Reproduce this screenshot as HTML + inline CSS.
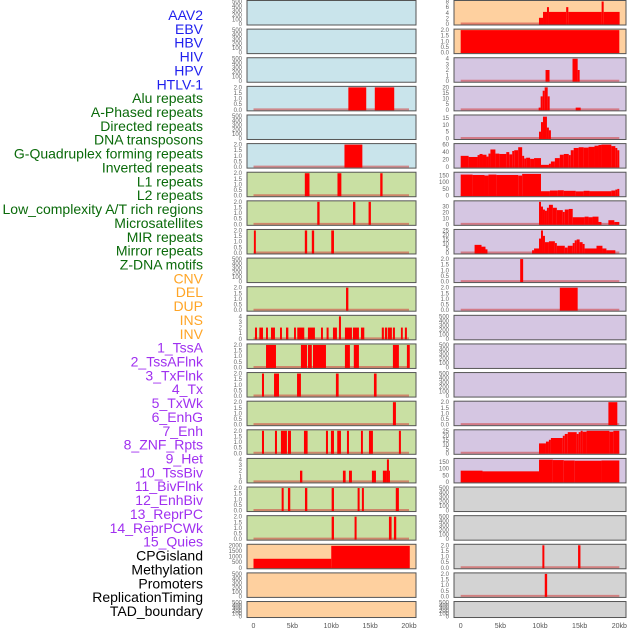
<!DOCTYPE html>
<html><head><meta charset="utf-8"><style>
html,body{margin:0;padding:0;background:#fff;width:630px;height:630px;overflow:hidden}
svg{display:block}
</style></head><body>
<svg id="chart" width="630" height="630" viewBox="0 0 630 630" xmlns="http://www.w3.org/2000/svg"></svg>
<script>
const trackLabels = ["AAV2","EBV","HBV","HIV","HPV","HTLV-1","Alu repeats","A-Phased repeats","Directed repeats","DNA transposons","G-Quadruplex forming repeats","Inverted repeats","L1 repeats","L2 repeats","Low_complexity A/T rich regions","Microsatellites","MIR repeats","Mirror repeats","Z-DNA motifs","CNV","DEL","DUP","INS","INV","1_TssA","2_TssAFlnk","3_TxFlnk","4_Tx","5_TxWk","6_EnhG","7_Enh","8_ZNF_Rpts","9_Het","10_TssBiv","11_BivFlnk","12_EnhBiv","13_ReprPC","14_ReprPCWk","15_Quies","CPGisland","Methylation","Promoters","ReplicationTiming","TAD_boundary"];
const labelGroups = ["virus","virus","virus","virus","virus","virus","repeat","repeat","repeat","repeat","repeat","repeat","repeat","repeat","repeat","repeat","repeat","repeat","repeat","sv","sv","sv","sv","sv","chrom","chrom","chrom","chrom","chrom","chrom","chrom","chrom","chrom","chrom","chrom","chrom","chrom","chrom","chrom","other","other","other","other","other"];
const xTickLabels = ["0","5kb","10kb","15kb","20kb"];
const xTickValues = [0,5,10,15,20];
const t500 = ["0","100","200","300","400","500"];
const t2 = ["0.0","0.5","1.0","1.5","2.0"];
const t4 = ["0","1","2","3","4"];
const segHIV = [[12.2,14.5,2],[15.6,18.1,2]];
const segHTLV = [[11.7,14.0,2]];
const segAlu = [[6.6,7.2,2],[10.8,11.3,2],[16.3,16.6,2]];
const segAPhased = [[8.2,8.5,2],[12.8,13.1,2],[14.8,15.1,2]];
const segDirected = [[0.05,0.3,2],[6.6,6.9,2],[7.5,7.8,2],[10.0,10.35,2]];
const segGQuad = [[11.9,12.2,2]];
const segInverted = [[0.19,0.45,2],[0.75,1.22,2],[1.61,1.86,2],[2.25,2.76,2],[3.41,3.66,2],[4.18,4.48,2],[5.21,5.46,2],[5.63,6.53,2],[7.0,7.9,2],[8.68,8.93,2],[9.4,9.66,2],[10.22,10.73,2],[10.99,11.25,4],[11.76,12.66,2],[12.79,13.56,2],[13.82,14.25,2],[16.5,16.77,2],[16.9,17.2,2],[17.29,17.8,2],[17.93,18.19,2],[18.96,19.2,2],[19.47,19.73,2]];
const segL1 = [[1.61,2.89,2],[6.1,6.88,2],[7.0,7.5,2],[7.65,9.32,2],[11.76,12.4,2],[12.9,13.56,2],[17.93,18.7,2],[19.73,20.1,2]];
const segL2 = [[1.09,1.35,2],[2.64,3.28,2],[5.6,6.1,2],[10.6,10.95,2],[15.49,15.83,2]];
const segLowComp = [[17.93,18.32,2]];
const segMicro = [[1.09,1.35,2],[2.76,3.02,2],[3.53,4.3,2],[4.43,4.82,2],[6.49,6.96,2],[9.32,9.58,2],[9.96,10.35,2],[10.77,11.25,2],[12.02,12.28,2],[13.82,14.07,2],[14.85,15.36,2],[18.7,18.96,2]];
const segMIR = [[5.98,6.28,2],[11.5,11.85,2],[12.28,12.66,2],[15.23,15.75,2],[16.64,17.16,2],[17.16,17.42,4],[17.42,17.54,2]];
const segMirror = [[3.62,3.88,2],[4.43,4.73,2],[6.62,6.92,2],[10.05,10.35,2],[13.39,13.65,2],[13.94,14.2,2],[18.3,18.7,2]];
const segZDNA = [[10.05,10.35,2],[13.0,13.26,2],[17.42,17.76,2],[18.06,18.36,2]];
const segCNV = [[0,10,800],[10,20.1,1950]];
const segINS = [[9.87,10.38,2.2],[10.38,10.88,4.3],[10.88,11.13,6],[11.13,13.3,4.3],[13.3,13.57,6],[13.57,17.77,4.3],[17.77,18.03,8],[18.03,20.04,4.3]];
const segINV = [[0,20,2]];
const segTssA = [[10.7,11.2,2],[14.1,14.75,4],[14.75,15.0,2]];
const segTssAFlnk = [[9.83,10.08,2],[10.08,10.34,12],[10.34,10.59,17],[10.59,10.97,20],[10.97,11.22,12],[14.5,15.13,2]];
const segTxFlnk = [[9.875,10.125,5],[10.125,10.375,12],[10.375,10.875,16],[10.875,11.125,8],[11.125,11.375,6]];
const segTx = [[0,1,30],[1,2.125,27],[2.125,2.375,32],[2.375,2.75,35],[2.75,3.25,33],[3.25,3.5,28],[3.5,3.75,36],[3.75,4.375,47],[4.375,4.875,36],[4.875,5.75,35],[5.75,6.125,40],[6.125,6.5,34],[6.5,6.75,43],[6.75,7.25,45],[7.25,7.75,53],[7.75,8,30],[8,8.25,23],[8.25,8.75,25],[8.75,9.25,22],[9.25,10.125,24],[10.125,11.125,6],[11.125,11.375,9],[11.375,11.875,15],[11.875,12.5,24],[12.5,13,33],[13,13.625,35],[13.625,13.875,32],[13.875,14.25,45],[14.25,14.875,51],[14.875,15.5,53],[15.5,16.125,52],[16.125,16.875,54],[16.875,17.375,57],[17.375,17.75,59],[17.75,19,60],[19,19.5,56],[19.5,19.75,51],[19.75,20,45]];
const segTxWk = [[0,1.5,155],[1.5,3,152],[3,3.5,148],[3.5,4.5,155],[4.5,7.25,152],[7.25,7.75,148],[7.75,10.125,160],[10.125,11.25,33],[11.25,12.25,38],[12.25,13,40],[13,14.5,36],[14.5,15.5,32],[15.5,16.25,36],[16.25,19,33],[19,19.5,38],[19.5,19.75,45],[19.75,20,50]];
const segEnhG = [[9.875,10.125,38],[10.125,10.375,30],[10.375,10.625,25],[10.625,10.875,23],[10.875,11.125,28],[11.125,11.625,33],[11.625,12.125,28],[12.125,12.875,24],[12.875,13.125,21],[13.125,13.625,25],[13.625,14.125,26],[14.125,15.625,12],[15.625,16.125,13],[16.125,16.625,12],[16.625,17.375,13],[17.375,17.75,4],[18.625,19.375,7],[19.375,20,4]];
const segEnh = [[1.75,2.625,9],[2.625,3.125,7],[3.125,3.375,4],[9,9.25,3],[9.25,9.875,5],[9.875,10.125,16],[10.125,10.375,25],[10.375,10.625,19],[10.625,11.125,12],[11.125,11.875,13],[11.875,12.125,11],[12.125,13.125,8],[13.125,13.5,6],[13.5,14.125,8],[14.125,14.375,11],[14.375,14.625,14],[14.625,15,15],[15,15.375,12],[15.375,15.625,10],[15.625,17.125,5],[17.125,17.875,8],[17.875,18.375,5],[18.375,19.5,3]];
const segZNF = [[7.5,7.875,2]];
const segHet = [[12.5,14.75,2]];
const segReprPC = [[18.625,19.75,2]];
const segReprPCWk = [[9.875,10.75,11],[10.75,11.125,13],[11.125,11.375,15],[11.375,12.875,17],[12.875,13.125,19.5],[13.125,13.5,21.5],[13.5,14.625,23.5],[14.625,14.875,21.5],[14.875,15.125,23.5],[15.125,15.375,25],[15.375,15.875,24],[15.875,18.75,25],[18.75,19.25,24],[19.25,20,25]];
const segQuies = [[0,2.75,85],[2.75,9.875,80],[9.875,11.625,168],[11.625,13,165],[13,14.375,162],[14.375,17.75,160],[17.75,20,162]];
const segPromoters = [[10.3,10.55,2],[14.8,15.1,2]];
const segRepTiming = [[10.6,10.9,2]];
const empty = [];

const panelSegs = [empty,empty,empty,segHIV,empty,segHTLV,segAlu,segAPhased,segDirected,empty,segGQuad,segInverted,segL1,segL2,segLowComp,segMicro,segMIR,segMirror,segZDNA,segCNV,empty,empty,
 segINS,segINV,segTssA,segTssAFlnk,segTxFlnk,segTx,segTxWk,segEnhG,segEnh,segZNF,segHet,empty,empty,empty,segReprPC,segReprPCWk,segQuies,empty,empty,segPromoters,segRepTiming,empty];
const panelYMax = [500,500,500,2,500,2,2,2,2,500,2,4,2,2,2,2,4,2,2,2000,500,500,
 8,2,4,20,16.5,60,165,38,25,2,2,500,500,500,2,25,170,500,500,2,2,500];
const panelTicks = [t500,t500,t500,t2,t500,t2,t2,t2,t2,t500,t2,t4,t2,t2,t2,t2,t4,t2,t2,["0","500","1000","1500","2000"],t500,t500,
 ["0","2","4","6","8"],t2,t4,["0","5","10","15","20"],["0","5","10","15"],["0","20","40","60"],["0","50","100","150"],["0","10","20","30"],["0","5","10","15","20","25"],t2,t2,t500,t500,t500,t2,["0","5","10","15","20","25"],["0","50","100","150"],t500,t500,t2,t2,t500];
const panelBg = ["blue","blue","blue","blue","blue","blue","green","green","green","green","green","green","green","green","green","green","green","green","green","peach","peach","peach",
 "peach","peach","purple","purple","purple","purple","purple","purple","purple","purple","purple","purple","purple","purple","purple","purple","purple","grey","grey","grey","grey","grey"];

const bgColors = {blue:"#c9e4eb",green:"#c9e0a3",peach:"#fed09f",purple:"#d5c6e2",grey:"#d3d3d3"};
const labelColors = {virus:"#1f1fee",repeat:"#0a6a0a",sv:"#ffa526",chrom:"#a030f0",other:"#000"};
const NS = "http://www.w3.org/2000/svg";
const svg = document.getElementById("chart");
function mk(tag, attrs, parent){const e=document.createElementNS(NS,tag);for(const k in attrs)e.setAttribute(k,attrs[k]);(parent||svg).appendChild(e);return e;}

trackLabels.forEach((lab,i)=>{
  const t = mk("text",{x:203,y:15+i*13.86+5,"text-anchor":"end","font-family":"Liberation Sans, sans-serif","font-size":"14",fill:labelColors[labelGroups[i]]});
  t.textContent = lab;
  
  
});

const cols = [{px0:247,px1:416,x0:253.5,scale:7.775,tickX:242},{px0:454,px1:626,x0:460.7,scale:7.93,tickX:449}];
const ROWS = 22, PITCH = 28.62;

panelSegs.forEach((segs,i)=>{
  const c = cols[Math.floor(i/ROWS)], r = i%ROWS;
  const top = r*PITCH+0.5, h = (r===ROWS-1)?16:24.5;
  const bot = top+h;
  const xOf = kb => c.x0 + kb*c.scale;
  const yOf = v => (bot-1) - v/panelYMax[i]*(h-2);
  const g = mk("g",{});
  
  
  const bg = mk("rect",{x:c.px0,y:top,width:c.px1-c.px0,height:h,fill:bgColors[panelBg[i]]},g);
  
  
  const clipId = "clip"+i;
  const cp = mk("clipPath",{id:clipId},g);
  mk("rect",{x:c.px0,y:top,width:c.px1-c.px0,height:h},cp);
  if(segs.length){
    const bl = mk("line",{x1:xOf(0),x2:xOf(20),y1:bot-1.5,y2:bot-1.5,stroke:"#d23c3c","stroke-opacity":"0.55","stroke-width":"2"},g);
    
    
  }
  segs.forEach(s=>{
    const x1=xOf(s[0]), x2=xOf(s[1]), y=yOf(s[2]);
    const b = mk("rect",{x:x1,y:y,width:Math.max(x2-x1,1),height:(bot-1)-y+0.5,fill:"#ff0000","clip-path":`url(#${clipId})`},g);
    
    
  });
  const bd = mk("rect",{x:c.px0,y:top,width:c.px1-c.px0,height:h,fill:"none",stroke:"#555","stroke-width":"1"},g);
  
  
  panelTicks[i].forEach(tl=>{
    const v = parseFloat(tl);
    const t = mk("text",{x:c.tickX,y:yOf(v)+2,"text-anchor":"end","font-family":"Liberation Sans, sans-serif","font-size":"6",fill:"#666"},g);
    t.textContent = tl;
    
    
  });
});

cols.forEach(c=>{
  xTickValues.forEach((v,k)=>{
    const t = mk("text",{x:c.x0+v*c.scale,y:628,"text-anchor":"middle","font-family":"Liberation Sans, sans-serif","font-size":"7",fill:"#555"});
    t.textContent = xTickLabels[k];
    
    
  });
});
</script>
</body></html>
